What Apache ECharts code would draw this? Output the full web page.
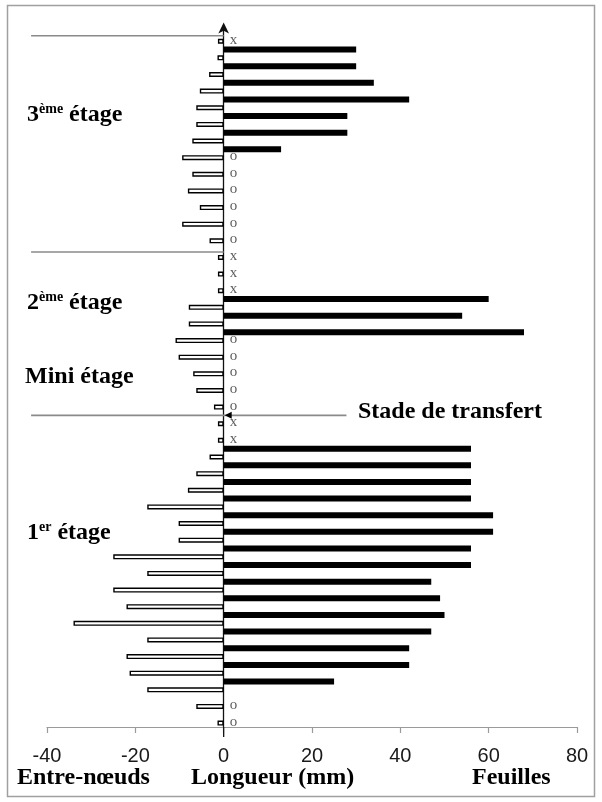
<!DOCTYPE html>
<html><head><meta charset="utf-8">
<script src="https://cdn.jsdelivr.net/npm/echarts@6/dist/echarts.min.js"></script>
<style>html,body{margin:0;padding:0;background:#fff}#c{width:602px;height:802px}</style>
</head><body><div id="c"></div>
<script>
// Rangs des phytomères, du bas (1) vers le haut (42)
const rangs = ['1','2','3','4','5','6','7','8','9','10','11','12','13','14','15','16','17','18','19','20','21',
  '22','23','24','25','26','27','28','29','30','31','32','33','34','35','36','37','38','39','40','41','42'];
// Longueur des entre-nœuds (mm, portée à gauche en négatif)
const entreNoeuds = [-1.4,-6.2,-17.3,-21.3,-22,-17.3,-34,-22,-25,-17.3,-25,-10.2,-10.2,-17.3,-8.1,-6.2,-3.2,
  -1.3,-1.3,-2.2,-6.2,-6.9,-10.2,-10.9,-7.9,-7.9,-1.3,-1.3,-1.3,-3.2,-9.4,-5.4,-8.1,-7.1,-9.4,-7.1,-6.2,-6.2,-5.4,-3.3,-1.4,-1.3];
// Longueur des feuilles (mm)
const feuilles = [null,null,25,42,42,47,50,49,47,56,56,61,61,56,56,56,56,
  null,null,null,null,null,null,68,54,60,null,null,null,null,null,null,null,null,13,28,28,42,34,30,30,null];
// Marqueurs à côté de l'axe
const marqueurs = ['o','o','','','','','','','','','','','','','','','','x','x','o','o','o','o','o','','',
  'x','x','x','o','o','o','o','o','o','','','','','','','x'];
const xTicks = [-40,-20,0,20,40,60,80];

const chart = echarts.init(document.getElementById('c'), null, {renderer:'canvas'});
const serif = 'Liberation Serif, Times New Roman, serif';
const option = {
  animation: false,
  grid: {left: 47, right: 25, top: 28.5, bottom: 75},
  xAxis: {
    type: 'value', min: xTicks[0], max: xTicks[xTicks.length-1], interval: 20,
    axisLine: {show: true, onZero: false, lineStyle: {color: '#9a9a9a', width: 1.2}},
    axisTick: {show: true, length: 6, lineStyle: {color: '#9a9a9a', width: 1.2}},
    splitLine: {show: false},
    axisLabel: {color: '#1a1a1a', fontSize: 20, fontFamily: 'Liberation Sans, Arial, sans-serif', margin: 19}
  },
  yAxis: {
    type: 'category', data: rangs,
    axisLine: {show: true, onZero: true, symbol: ['none','arrow'], symbolSize: [8, 11], symbolOffset: [0, 6],
      lineStyle: {color: '#111', width: 1.3}},
    axisTick: {show: false}, axisLabel: {show: false}, splitLine: {show: false}
  },
  series: [
    {name: 'Feuilles', type: 'bar', data: feuilles, barWidth: 6, barGap: '47%',
      itemStyle: {color: '#000'}},
    {name: 'Entre-nœuds', type: 'bar', data: entreNoeuds, barWidth: 5, barGap: '47%',
      itemStyle: {color: '#fff', borderColor: '#000', borderWidth: 1.4}},
    {type: 'scatter', symbolSize: 1, itemStyle: {color: 'rgba(0,0,0,0)'},
      data: marqueurs.map((m, i) => m ? {value: [2.2, i], label: {formatter: m}} : null).filter(Boolean),
      label: {show: true, position: 'inside', offset: [0, 3], color: '#333', fontSize: 15, fontFamily: serif}}
  ]
};
chart.setOption(option);

const P = (x, c) => chart.convertToPixel({gridIndex: 0}, [x, c]);
const g = [];
const sepStyle = {stroke: '#8a8a8a', lineWidth: 1.6};
function hline(x1, x2, c, dy) {
  const a = P(x1, c), b = P(x2, c);
  g.push({type: 'line', shape: {x1: a[0], y1: a[1] + dy, x2: b[0], y2: b[1] + dy}, style: sepStyle, z: 10});
}
hline(-43.6, 0, 41, -1);
hline(-43.6, 0, 28, -1);
hline(-43.6, 27.8, 18, -4);
// pointe de flèche sur la ligne de transfert
const t = P(0, 18);
g.push({type: 'polygon', shape: {points: [[t[0] + 1, t[1] - 4], [t[0] + 8, t[1] - 7.5], [t[0] + 8, t[1] - 0.5]]}, style: {fill: '#000'}, z: 11});
// prolongement de l'axe vertical sous l'axe horizontal
const z0 = P(0, 0);
g.push({type: 'line', shape: {x1: z0[0], y1: 727, x2: z0[0], y2: 737}, style: {stroke: '#111', lineWidth: 1.3}, z: 10});
// cadre
g.push({type: 'rect', shape: {x: 7.5, y: 5.5, width: 587, height: 791}, style: {fill: 'none', stroke: '#a0a0a0', lineWidth: 1.5}, z: 0});

const rich = {
  b: {fontFamily: serif, fontWeight: 'bold', fontSize: 24, color: '#000'},
  s: {fontFamily: serif, fontWeight: 'bold', fontSize: 14, color: '#000', verticalAlign: 'top', padding: [0, 0, 11, 0]}
};
function label(x, y, text) {
  g.push({type: 'text', x: x, y: y, style: {text: text, rich: rich, verticalAlign: 'middle', align: 'left'}, z: 12});
}
label(27, 115, '{b|3}{s|ème}{b| étage}');
label(27, 303, '{b|2}{s|ème}{b| étage}');
label(25, 377, '{b|Mini étage}');
label(27, 533, '{b|1}{s|er}{b| étage}');
label(358, 412, '{b|Stade de transfert}');
label(17, 778, '{b|Entre-nœuds}');
label(191, 778, '{b|Longueur (mm)}');
label(472, 778, '{b|Feuilles}');

chart.setOption({graphic: g});
</script>
</body></html>
